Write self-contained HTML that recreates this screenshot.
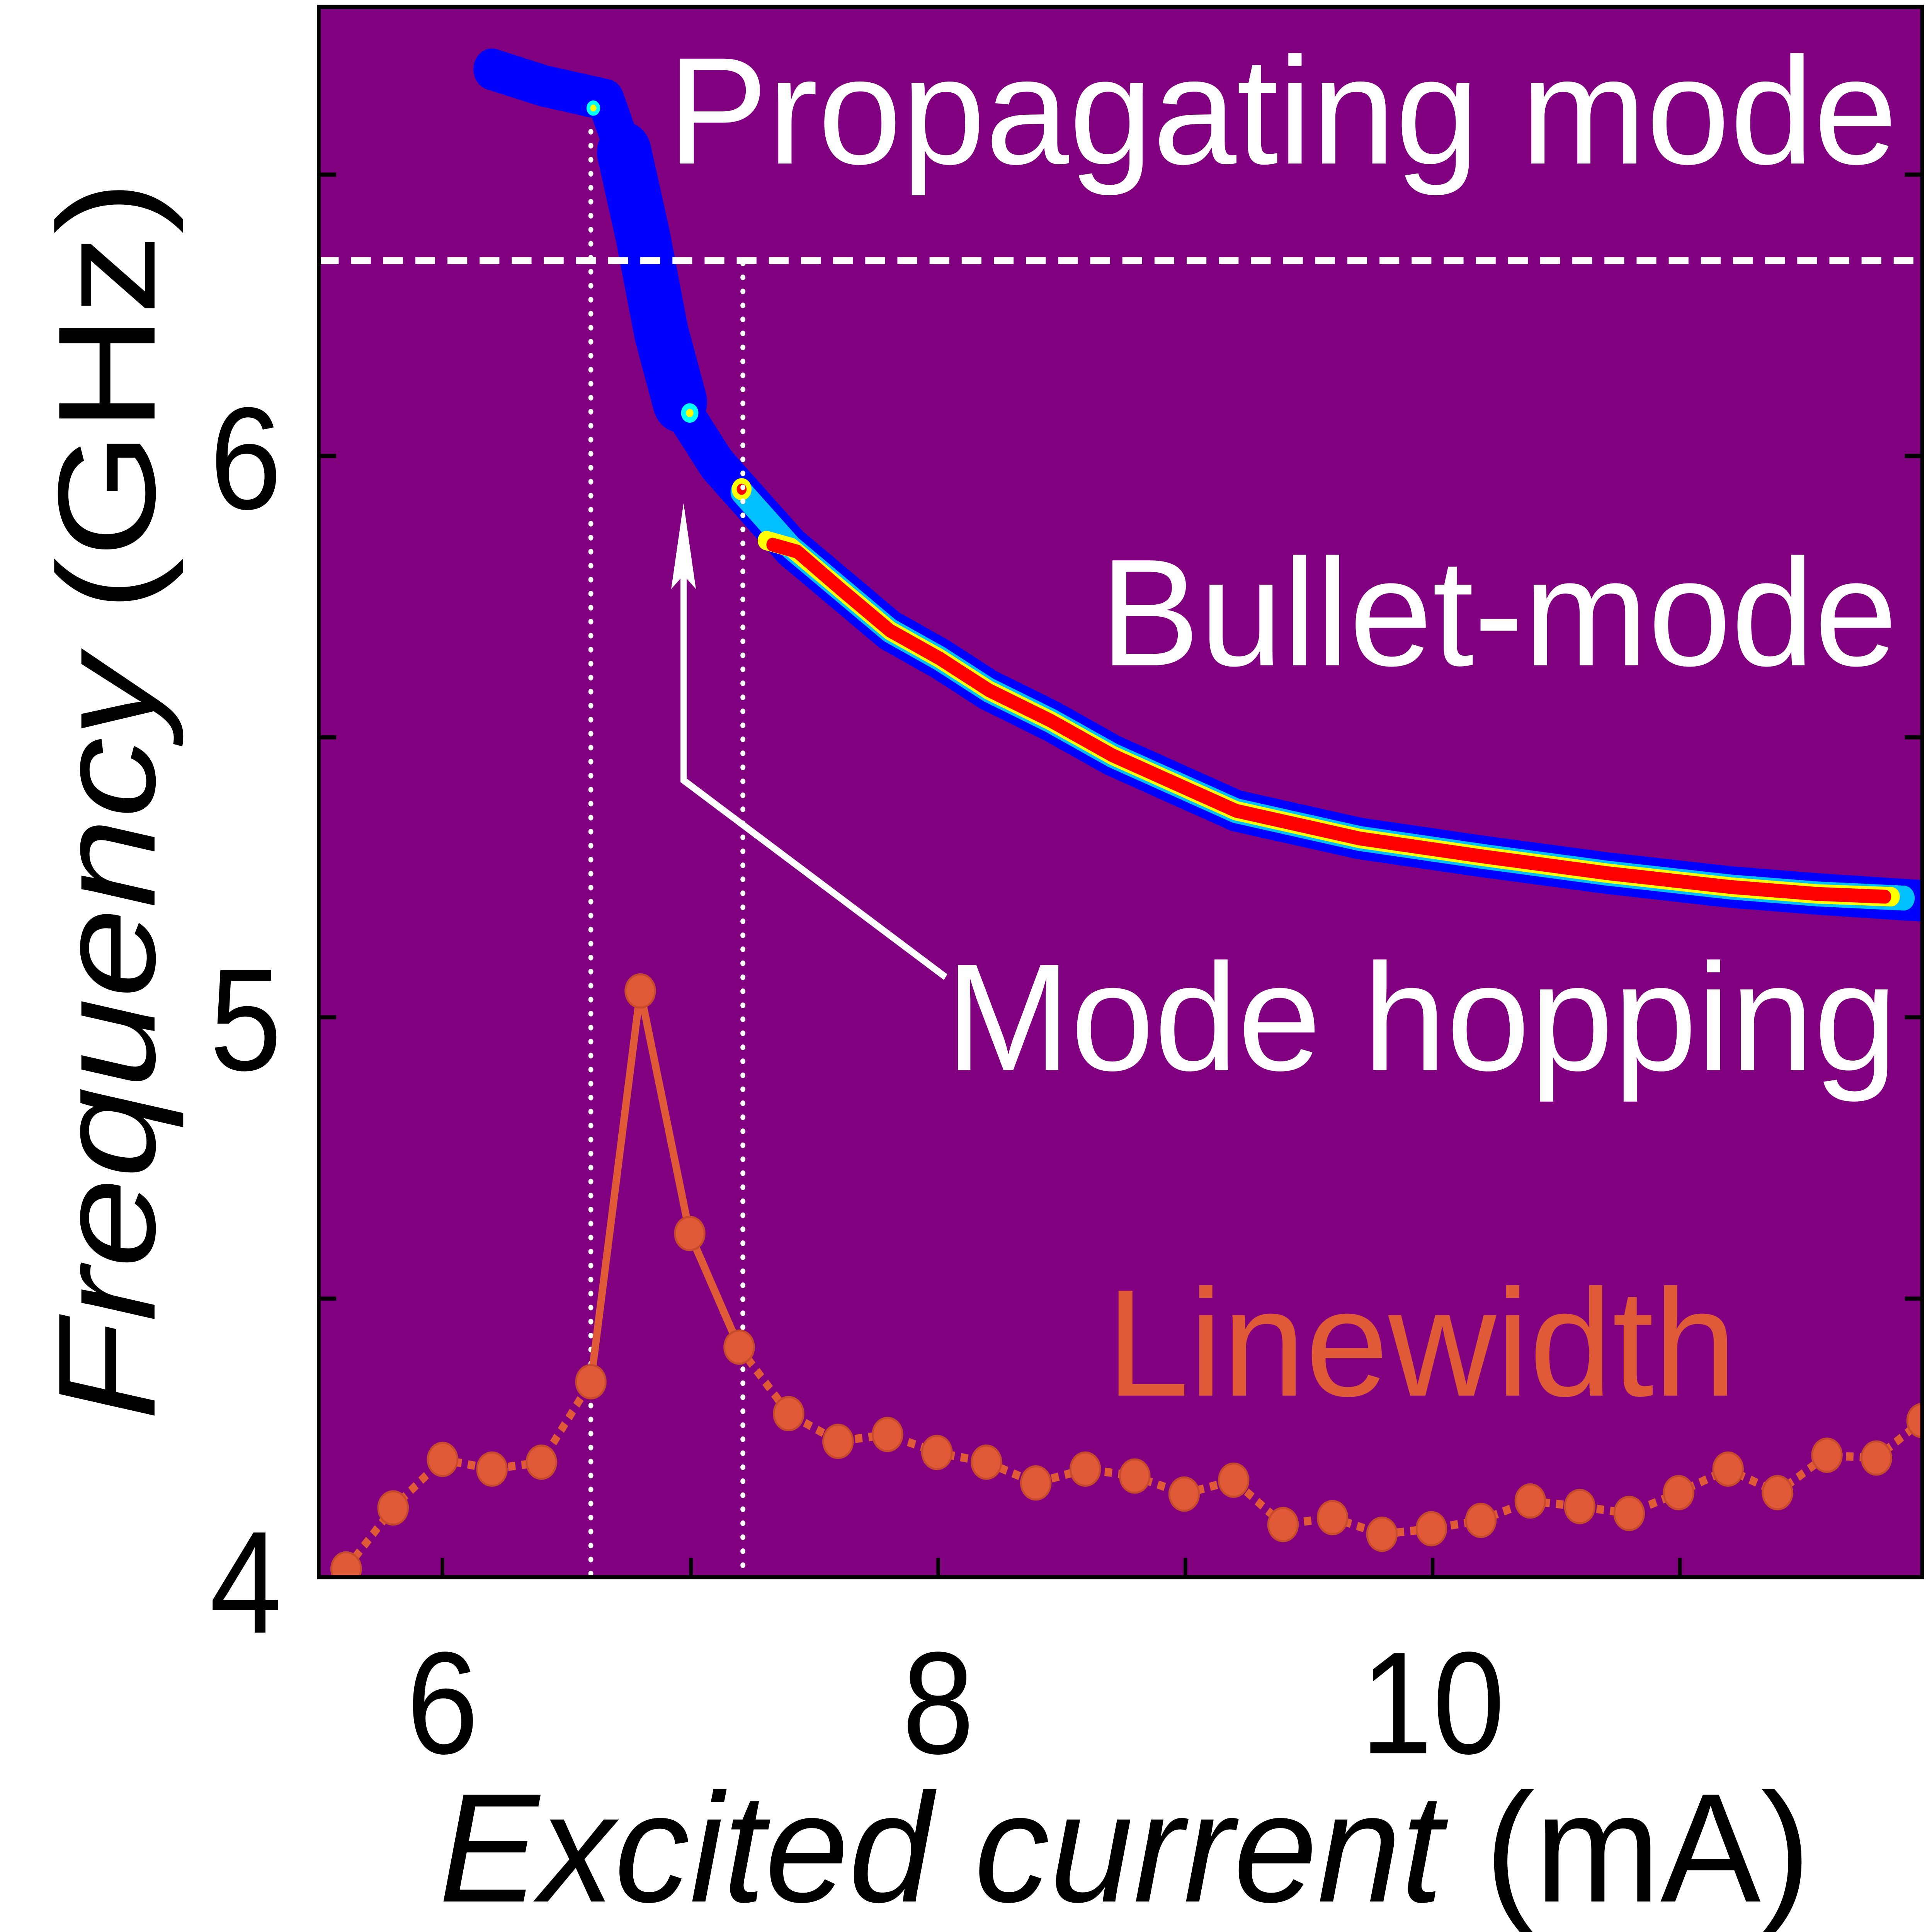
<!DOCTYPE html>
<html><head><meta charset="utf-8"><style>html,body{margin:0;padding:0;background:#fff;width:100%;height:100%;overflow:hidden}svg{display:block;position:fixed;left:0;top:0;width:100vw;height:100vh}</style></head>
<body>
<svg viewBox="0 0 1563 1394" preserveAspectRatio="none" xmlns="http://www.w3.org/2000/svg" font-family="Liberation Sans, sans-serif">
<rect x="0" y="0" width="1563" height="1394" fill="#fff"/>
<rect x="258" y="5" width="1297" height="1133" fill="#800080"/>
<defs><clipPath id="c"><rect x="258" y="5" width="1297" height="1133"/></clipPath></defs>
<g clip-path="url(#c)" fill="none" stroke-linecap="round" stroke-linejoin="round">
<polyline points="398,50 440,62 490,72 505,110 520,170 535,240 555,300 580,335 605,360 640,395 680,425 720,455 760,475 800,498 850,520 900,545 950,565 1000,585 1050,595 1100,605 1200,618 1300,630 1400,640 1470,645 1555,650" stroke="#0000ff" stroke-width="30"/>
<polyline points="505,110 520,170 535,240 550,290" stroke="#0000ff" stroke-width="44"/>
<polyline points="600,355 640,395 680,425 720,455 760,475 800,498 850,520 900,545 950,565 1000,585 1050,595 1100,605 1200,618 1300,630 1400,640 1470,645 1540,648" stroke="#00c0ff" stroke-width="18"/>
<polyline points="620,390 640,395 680,425 720,455 760,475 800,498 850,520 900,545 950,565 1000,585 1050,595 1100,605 1200,618 1300,630 1400,640 1470,645 1530,647" stroke="#ffff00" stroke-width="14"/>
<polyline points="625,393 645,398 680,425 720,455 760,475 800,498 850,520 900,545 950,565 1000,585 1050,595 1100,605 1200,618 1300,630 1400,640 1470,645 1525,647" stroke="#ff0000" stroke-width="10"/>
<circle cx="558" cy="298" r="5" fill="#ffff00" stroke="#00ffff" stroke-width="4"/>
<circle cx="600" cy="353" r="6" fill="#ff0000" stroke="#ffff00" stroke-width="4"/>
<circle cx="480" cy="78" r="4" fill="#ffff00" stroke="#00ffff" stroke-width="3"/>
<line x1="258" y1="188" x2="1555" y2="188" stroke="#fff" stroke-width="5" stroke-dasharray="16,10" stroke-linecap="butt"/>
<line x1="478" y1="95" x2="478" y2="1138" stroke="#fff" stroke-width="4" stroke-dasharray="0.1,10"/>
<line x1="601" y1="190" x2="601" y2="1138" stroke="#fff" stroke-width="4" stroke-dasharray="0.1,10"/>
<polyline points="280,1132 318,1088 358,1053 398,1060 438,1055 478,997" stroke="#e05a38" stroke-width="6" stroke-dasharray="6,5" stroke-linecap="butt"/>
<polyline points="478,997 518,715 558,890 598,972" stroke="#e05a38" stroke-width="6"/>
<polyline points="598,972 638,1020 678,1040 718,1035 758,1048 798,1055 838,1070 878,1060 918,1065 958,1078 998,1068 1038,1100 1078,1095 1118,1107 1158,1103 1198,1097 1238,1083 1278,1087 1318,1092 1358,1077 1398,1060 1438,1077 1478,1050 1518,1052 1555,1025" stroke="#e05a38" stroke-width="6" stroke-dasharray="6,5" stroke-linecap="butt"/>
<g fill="#e05a38" stroke="#c84a2c" stroke-width="1.5">
<circle cx="280" cy="1132" r="12"/><circle cx="318" cy="1088" r="12"/><circle cx="358" cy="1053" r="12"/><circle cx="398" cy="1060" r="12"/><circle cx="438" cy="1055" r="12"/><circle cx="478" cy="997" r="12"/><circle cx="518" cy="715" r="12"/><circle cx="558" cy="890" r="12"/><circle cx="598" cy="972" r="12"/><circle cx="638" cy="1020" r="12"/><circle cx="678" cy="1040" r="12"/><circle cx="718" cy="1035" r="12"/><circle cx="758" cy="1048" r="12"/><circle cx="798" cy="1055" r="12"/><circle cx="838" cy="1070" r="12"/><circle cx="878" cy="1060" r="12"/><circle cx="918" cy="1065" r="12"/><circle cx="958" cy="1078" r="12"/><circle cx="998" cy="1068" r="12"/><circle cx="1038" cy="1100" r="12"/><circle cx="1078" cy="1095" r="12"/><circle cx="1118" cy="1107" r="12"/><circle cx="1158" cy="1103" r="12"/><circle cx="1198" cy="1097" r="12"/><circle cx="1238" cy="1083" r="12"/><circle cx="1278" cy="1087" r="12"/><circle cx="1318" cy="1092" r="12"/><circle cx="1358" cy="1077" r="12"/><circle cx="1398" cy="1060" r="12"/><circle cx="1438" cy="1077" r="12"/><circle cx="1478" cy="1050" r="12"/><circle cx="1518" cy="1052" r="12"/><circle cx="1555" cy="1025" r="12"/>
</g>
</g>
<polyline points="765,705 553,563 553,400" fill="none" stroke="#fff" stroke-width="5"/>
<polygon points="553,363 543,425 553,415 563,425" fill="#fff"/>
<g fill="#fff" font-size="110">
<text x="540" y="118" textLength="995" lengthAdjust="spacingAndGlyphs">Propagating mode</text>
<text x="890" y="480" textLength="645" lengthAdjust="spacingAndGlyphs">Bullet-mode</text>
<text x="765" y="772" textLength="770" lengthAdjust="spacingAndGlyphs">Mode hopping</text>
</g>
<text x="895" y="1007" fill="#e05a38" font-size="110" textLength="510" lengthAdjust="spacingAndGlyphs">Linewidth</text>
<rect x="258" y="5" width="1297" height="1133" fill="none" stroke="#000" stroke-width="3"/>
<g stroke="#000" stroke-width="3">
<line x1="258" y1="126" x2="272" y2="126"/><line x1="258" y1="329" x2="272" y2="329"/><line x1="258" y1="532" x2="272" y2="532"/><line x1="258" y1="734" x2="272" y2="734"/><line x1="258" y1="937" x2="272" y2="937"/>
<line x1="1555" y1="126" x2="1541" y2="126"/><line x1="1555" y1="329" x2="1541" y2="329"/><line x1="1555" y1="532" x2="1541" y2="532"/><line x1="1555" y1="734" x2="1541" y2="734"/><line x1="1555" y1="937" x2="1541" y2="937"/>
<line x1="358" y1="1138" x2="358" y2="1124"/><line x1="559" y1="1138" x2="559" y2="1124"/><line x1="759" y1="1138" x2="759" y2="1124"/><line x1="959" y1="1138" x2="959" y2="1124"/><line x1="1159" y1="1138" x2="1159" y2="1124"/><line x1="1359" y1="1138" x2="1359" y2="1124"/>
</g>
<g font-size="105" fill="#000">
<text x="228" y="1178" text-anchor="end">4</text>
<text x="228" y="772" text-anchor="end">5</text>
<text x="228" y="367" text-anchor="end">6</text>
<text x="358" y="1265" text-anchor="middle">6</text>
<text x="759" y="1265" text-anchor="middle">8</text>
<text x="1159" y="1265" text-anchor="middle">10</text>
</g>
<text x="355" y="1372" font-size="112" textLength="1110" lengthAdjust="spacingAndGlyphs"><tspan font-style="italic">Excited current</tspan> (mA)</text>
<text transform="translate(125,1025) rotate(-90)" font-size="112" textLength="895" lengthAdjust="spacingAndGlyphs"><tspan font-style="italic">Frequency</tspan> (GHz)</text>
</svg>
</body></html>
